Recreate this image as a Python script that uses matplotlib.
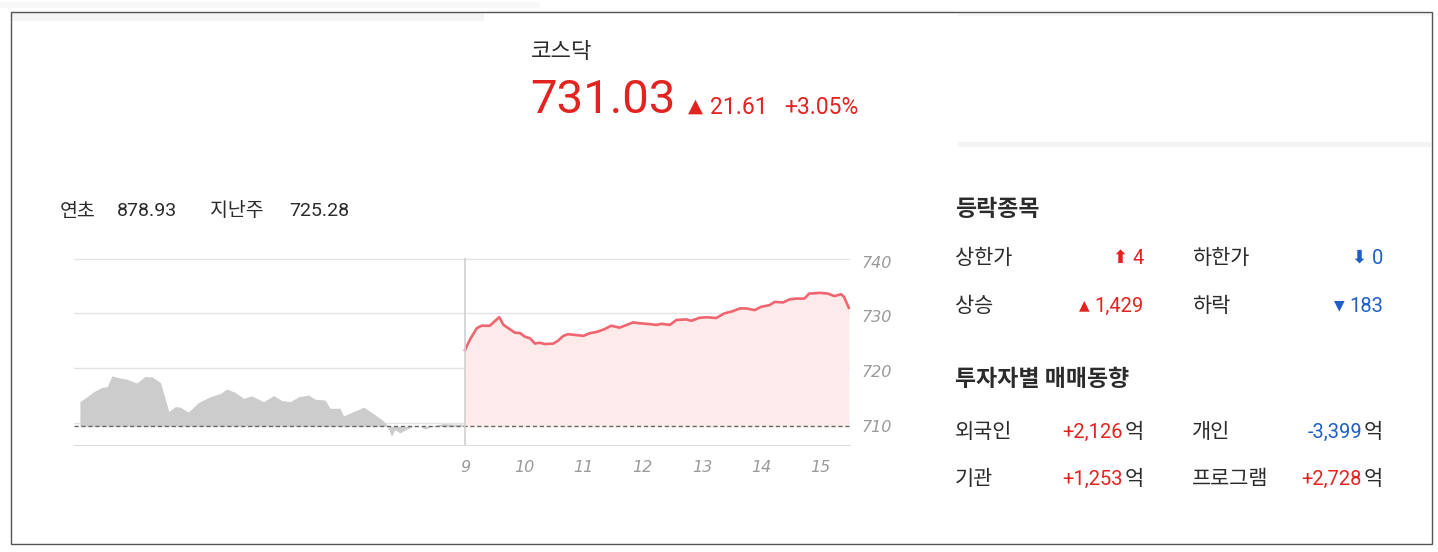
import matplotlib
matplotlib.use("Agg")
import matplotlib.pyplot as plt
from matplotlib.patches import Rectangle
from matplotlib.transforms import offset_copy

plt.rcParams['font.family'] = ['Noto Sans CJK KR', 'DejaVu Sans']

# previous session (hours of day) and KOSDAQ level
prev_t = [9.0, 9.12, 9.23, 9.37, 9.46, 9.54, 9.68, 9.79, 9.96, 10.10, 10.22, 10.36,
          10.50, 10.61, 10.69, 10.83, 11.00, 11.20, 11.37, 11.48, 11.62, 11.76, 11.90,
          12.10, 12.27, 12.41, 12.55, 12.69, 12.86, 12.97, 13.14, 13.22, 13.39, 13.45,
          13.62, 13.79, 13.93, 14.10, 14.18, 14.26, 14.32, 14.40, 14.52, 14.63, 14.74,
          14.83, 14.97, 15.13, 15.30, 15.47]
prev_v = [713.9, 714.8, 715.7, 716.5, 716.65, 718.6, 718.2, 718.0, 717.3, 718.5, 718.4, 717.4,
          712.1, 713.0, 712.9, 712.0, 713.75, 714.8, 715.4, 716.2, 715.6, 714.5, 714.95,
          713.9, 715.0, 714.1, 713.9, 714.8, 715.1, 714.35, 714.2, 712.7, 712.7, 711.3,
          712.1, 712.9, 711.9, 710.6, 709.7, 707.6, 708.8, 708.2, 708.9, 709.4, 709.4,
          708.9, 709.5, 709.9, 709.8, 709.8]

# today
today_t = [9.0, 9.08, 9.20, 9.28, 9.42, 9.51, 9.58, 9.65, 9.76, 9.84, 9.93, 10.01, 10.10,
           10.18, 10.26, 10.35, 10.49, 10.57, 10.66, 10.74, 10.88, 11.00, 11.11, 11.22,
           11.36, 11.47, 11.61, 11.73, 11.84, 11.95, 12.12, 12.23, 12.32, 12.46, 12.57,
           12.74, 12.82, 12.96, 13.08, 13.24, 13.38, 13.52, 13.64, 13.75, 13.89, 14.00,
           14.14, 14.23, 14.37, 14.48, 14.59, 14.73, 14.81, 14.99, 15.13, 15.24, 15.35,
           15.40, 15.48]
today_v = [723.3, 725.15, 727.3, 727.75, 727.75, 728.65, 729.3, 727.9, 727.1, 726.5, 726.4,
           725.75, 725.45, 724.5, 724.65, 724.4, 724.5, 725.0, 725.9, 726.2, 726.05, 725.9,
           726.4, 726.6, 727.15, 727.75, 727.4, 727.9, 728.35, 728.2, 728.05, 727.9, 728.1,
           727.9, 728.8, 728.9, 728.65, 729.2, 729.3, 729.15, 730.0, 730.4, 730.9, 730.9,
           730.6, 731.2, 731.5, 732.1, 732.0, 732.55, 732.7, 732.7, 733.6, 733.75, 733.6,
           733.15, 733.5, 733.0, 731.0]

prev_close = 709.42
y_ticks = [710, 720, 730, 740]
x_ticks = [9, 10, 11, 12, 13, 14, 15]

index_name = "코스닥"
index_value = "731.03"
change = "21.61"
change_pct = "+3.05%"
ref_labels = ["연초", "지난주"]
ref_values = ["878.93", "725.28"]

updown_labels = [["상한가", "하한가"], ["상승", "하락"]]
updown_values = [["4", "0"], ["1,429", "183"]]
updown_marks = [["⬆", "⬇"], ["▲", "▼"]]
updown_colors = [["red", "blue"], ["red", "blue"]]

investor_labels = [["외국인", "개인"], ["기관", "프로그램"]]
investor_values = [["+2,126", "-3,399"], ["+1,253", "+2,728"]]

RED = "#e3231f"
BLUE = "#1f5fc6"
DARK = "#2b2b2b"
W, H = 1438, 552


def fx(x):
    return x / W


def fy(y):
    return 1 - y / H


fig = plt.figure(figsize=(W / 100, H / 100), dpi=100)

# faint screenshot strips, then the frame on top
fig.patches.append(Rectangle((fx(11), fy(20.5)), fx(473), 8 / H, transform=fig.transFigure,
                             facecolor="#f4f4f4", edgecolor="none"))
fig.patches.append(Rectangle((fx(958), fy(147)), fx(473), 5 / H, transform=fig.transFigure,
                             facecolor="#f4f4f4", edgecolor="none"))
fig.patches.append(Rectangle((fx(958), fy(15.5)), fx(473), 3 / H, transform=fig.transFigure,
                             facecolor="#f6f6f6", edgecolor="none"))
fig.patches.append(Rectangle((fx(0), fy(8)), fx(540), 6 / H, transform=fig.transFigure,
                             facecolor="#f8f8f8", edgecolor="none"))
fig.patches.append(Rectangle((fx(10.5), fy(544)), fx(1421), 532.5 / H, transform=fig.transFigure,
                             fill=False, edgecolor="#555555", linewidth=1))

# header
fig.text(fx(531), fy(52), index_name, fontsize=16, color=DARK, va="center", fontweight="medium")
fig.text(fx(530), fy(100), index_value, fontsize=34, color=RED, va="center", family="Roboto")
fig.text(fx(688), fy(106), "▲", fontsize=14, color=RED, va="center", family="DejaVu Sans")
fig.text(fx(710), fy(108), change, fontsize=16.5, color=RED, va="center", family="Roboto")
fig.text(fx(784), fy(108), change_pct, fontsize=16.5, color=RED, va="center", family="Roboto")

fig.text(fx(60), fy(211), ref_labels[0], fontsize=14, color=DARK, va="center")
fig.text(fx(117), fy(211), ref_values[0], fontsize=14, color=DARK, va="center", family="Roboto")
fig.text(fx(210), fy(211), ref_labels[1], fontsize=14, color=DARK, va="center")
fig.text(fx(289), fy(211), ref_values[1], fontsize=14, color=DARK, va="center", family="Roboto")

# chart
ax = fig.add_axes([fx(74), fy(445), fx(850 - 74), (445 - 258) / H])
prev_x = [t - 6.5 for t in prev_t]
ax.fill_between(prev_x, prev_v, prev_close, color="#cccccc", linewidth=0)
ax.fill_between(today_t, today_v, prev_close, color="#fdeaea", linewidth=0)
ax.plot(today_t, today_v, color="#ef6670", linewidth=1.9, solid_joinstyle="round")
ax.axhline(prev_close, color="#666666", linewidth=1, linestyle=(0, (3, 2)))
ax.axvline(9, color="#d0d0d0", linewidth=1.2)
for yv in y_ticks:
    ax.axhline(yv, color="#e4e4e4", linewidth=1, zorder=0)

ax.set_xlim(2.4, 15.5)
ax.set_ylim(706, 740.1)
for s in ["top", "left", "right"]:
    ax.spines[s].set_visible(False)
ax.spines["bottom"].set_color("#dddddd")
ax.yaxis.tick_right()
ax.set_yticks(y_ticks)
ax.set_yticklabels([str(v) for v in y_ticks])
ax.set_xticks(x_ticks)
ax.set_xticklabels([str(v) for v in x_ticks])
ax.tick_params(axis="y", length=0, pad=8, labelsize=11.5, labelcolor="#9a9a9a")
ax.tick_params(axis="x", length=0, pad=11, labelsize=11.5, labelcolor="#9a9a9a")
for lab in ax.get_xticklabels() + ax.get_yticklabels():
    lab.set_fontstyle("italic")
    lab.set_family("DejaVu Sans")
for lab in ax.get_yticklabels():
    lab.set_transform(offset_copy(lab.get_transform(), fig=fig, x=0, y=-3, units="dots"))

# right panel
col_label = [955, 1192]
col_value = [1144, 1383]
fig.text(fx(955), fy(209), "등락종목", fontsize=16.5, color=DARK, va="center", fontweight="bold")
row_y = [258, 306]
renderer = fig.canvas.get_renderer()
for i in range(2):
    for j in range(2):
        c = RED if updown_colors[i][j] == "red" else BLUE
        fig.text(fx(col_label[j]), fy(row_y[i]), updown_labels[i][j], fontsize=15, color=DARK, va="center")
        t = fig.text(fx(col_value[j]), fy(row_y[i]), updown_values[i][j], fontsize=14.5, color=c,
                     va="center", ha="right", family="Roboto")
        x0 = t.get_window_extent(renderer).x0
        fig.text((x0 - 5) / W, fy(row_y[i] - (0 if i == 0 else 1)), updown_marks[i][j],
                 fontsize=10 if i == 1 else 13, color=c, va="center", ha="right",
                 family="DejaVu Sans", fontweight="bold")

fig.text(fx(955), fy(380), "투자자별 매매동향", fontsize=16.5, color=DARK, va="center", fontweight="bold")
row_y2 = [432, 479]
for i in range(2):
    for j in range(2):
        v = investor_values[i][j]
        c = RED if v.startswith("+") else BLUE
        fig.text(fx(col_label[j]), fy(row_y2[i]), investor_labels[i][j], fontsize=15, color=DARK, va="center")
        fig.text(fx(col_value[j] - 21), fy(row_y2[i]), v, fontsize=14.5, color=c, va="center",
                 ha="right", family="Roboto")
        fig.text(fx(col_value[j]), fy(row_y2[i]), "억", fontsize=15, color=DARK, va="center", ha="right")

fig.savefig("out.png", dpi=100)
